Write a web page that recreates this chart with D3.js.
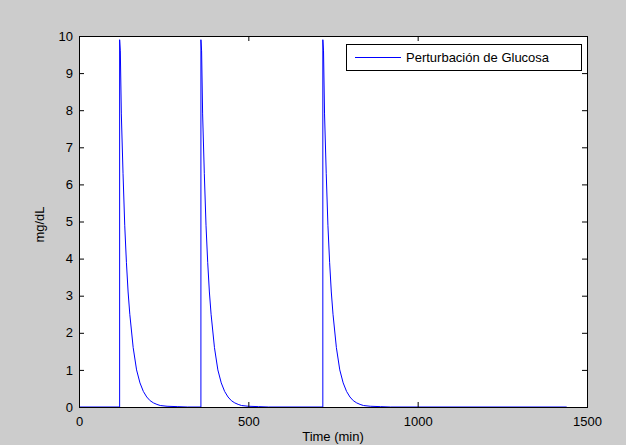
<!DOCTYPE html>
<html>
<head>
<meta charset="utf-8">
<script src="https://cdn.jsdelivr.net/npm/d3@7"></script>
<style>
  html, body { margin: 0; padding: 0; background: #cccccc; }
  svg { display: block; }
  text { font-family: "Liberation Sans", Arial, sans-serif; }
</style>
</head>
<body>
<svg id="chart" width="626" height="445"></svg>
<script>
// datos
const doseTimes = [120, 360, 720];           // min
const decayOffsets = [0, 2, 5, 10, 15, 20, 25, 30, 40, 50, 60, 70, 80, 90, 100, 110, 120, 140, 170, 200];
const decayValues = [9.9, 9.6, 7.9, 6.3, 4.9, 3.9, 3.1, 2.5, 1.6, 1.0, 0.65, 0.42, 0.27, 0.17, 0.11, 0.07, 0.04, 0.02, 0.01, 0.0];
const endTime = 1440;
const xTicks = [0, 500, 1000, 1500];
const yTicks = [0, 1, 2, 3, 4, 5, 6, 7, 8, 9, 10];
const seriesName = "Perturbación de Glucosa";

const svg = d3.select("#chart");
const margin = { top: 36, right: 39, bottom: 38, left: 79 };
const width = +svg.attr("width");
const height = +svg.attr("height");
const innerWidth = width - margin.left - margin.right;
const innerHeight = height - margin.top - margin.bottom;

const g = svg.append("g")
  .attr("transform", `translate(${margin.left},${margin.top})`);

const x = d3.scaleLinear().domain([0, 1500]).range([0, innerWidth]);
const y = d3.scaleLinear().domain([0, 10]).range([innerHeight, 0]);

// fondo blanco del eje
g.append("rect")
  .attr("width", innerWidth)
  .attr("height", innerHeight)
  .attr("fill", "#fff");

// armar la serie: linea base, salto y decaimiento en cada dosis
const points = [[0, 0]];
doseTimes.forEach((t0, i) => {
  const next = i < doseTimes.length - 1 ? doseTimes[i + 1] : endTime;
  points.push([t0, 0]);
  decayOffsets.forEach((dt, j) => {
    if (t0 + dt < next) points.push([t0 + dt, decayValues[j]]);
  });
});
points.push([endTime, 0]);

const line = d3.line()
  .x(d => x(d[0]))
  .y(d => y(d[1]));

g.append("path")
  .datum(points)
  .attr("fill", "none")
  .attr("stroke", "#0000ff")
  .attr("stroke-width", 1)
  .attr("d", line);

// ejes estilo matlab: ticks hacia adentro y en los cuatro lados
const tick = 5;
const axisStyle = sel => {
  sel.select(".domain").remove();
  sel.selectAll(".tick line").attr("stroke", "#000");
  sel.selectAll(".tick text").attr("fill", "#000").attr("font-size", "13px");
};
const noLabels = sel => sel.selectAll(".tick text").remove();

g.append("g")
  .attr("transform", `translate(0,${innerHeight})`)
  .call(d3.axisBottom(x).tickValues(xTicks).tickFormat(d3.format("d"))
    .tickSizeInner(-tick).tickSizeOuter(0).tickPadding(10))
  .call(axisStyle);

g.append("g")
  .call(d3.axisTop(x).tickValues(xTicks).tickSizeInner(-tick).tickSizeOuter(0))
  .call(axisStyle)
  .call(noLabels);

g.append("g")
  .call(d3.axisLeft(y).tickValues(yTicks).tickSizeInner(-tick).tickSizeOuter(0).tickPadding(6))
  .call(axisStyle);

g.append("g")
  .attr("transform", `translate(${innerWidth},0)`)
  .call(d3.axisRight(y).tickValues(yTicks).tickSizeInner(-tick).tickSizeOuter(0))
  .call(axisStyle)
  .call(noLabels);

// marco
g.append("rect")
  .attr("width", innerWidth)
  .attr("height", innerHeight)
  .attr("fill", "none")
  .attr("stroke", "#000")
  .attr("stroke-width", 1)
  .attr("shape-rendering", "crispEdges");

// etiquetas
g.append("text")
  .attr("x", innerWidth / 2)
  .attr("y", innerHeight + 34)
  .attr("text-anchor", "middle")
  .attr("font-size", "13px")
  .text("Time (min)");

g.append("text")
  .attr("transform", "rotate(-90)")
  .attr("x", -innerHeight / 2 - 3)
  .attr("y", -35)
  .attr("text-anchor", "middle")
  .attr("font-size", "13px")
  .text("mg/dL");

// leyenda
const legend = g.append("g")
  .attr("transform", `translate(${innerWidth - 241},8)`);

legend.append("rect")
  .attr("width", 235)
  .attr("height", 26)
  .attr("fill", "#fff")
  .attr("stroke", "#000")
  .attr("shape-rendering", "crispEdges");

legend.append("line")
  .attr("x1", 9).attr("x2", 55)
  .attr("y1", 13.5).attr("y2", 13.5)
  .attr("stroke", "#0000ff");

legend.append("text")
  .attr("x", 60)
  .attr("y", 18)
  .attr("font-size", "13px")
  .text(seriesName);
</script>
</body>
</html>
